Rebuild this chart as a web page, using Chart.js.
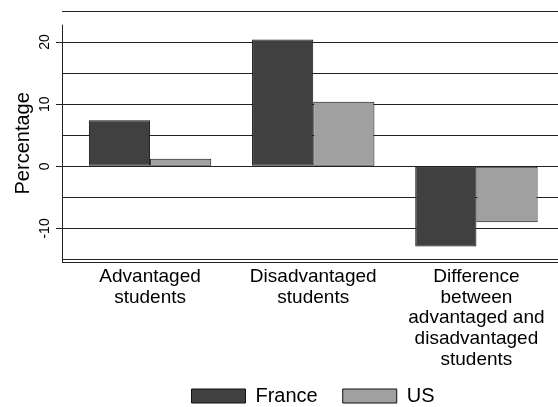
<!DOCTYPE html>
<html>
<head>
<meta charset="utf-8">
<script src="https://cdn.jsdelivr.net/npm/chart.js@4"></script>
<style>
  html, body { margin: 0; padding: 0; background: #fff; }
  #wrap { width: 558px; height: 407px; }
</style>
</head>
<body>
<div id="wrap"><canvas id="MainChart"></canvas></div>
<script>
// categories and values
var categories = [
    ['Advantaged', 'students'],
    ['Disadvantaged', 'students'],
    ['Difference', 'between', 'advantaged and', 'disadvantaged', 'students']
];
var franceVals = [7.4, 20.4, -12.9];
var usVals = [1.2, 10.4, -9.0];
var yTickLabels = [-10, 0, 10, 20];

var FONT = "'Liberation Sans', Arial, Helvetica, sans-serif";
var LEGEND_H = 33;   // space the legend takes in the layout
var LEGEND_UP = 13;  // legend drawn a bit higher, over the label box
var X_INSET = 6.5;   // stata leaves a small gap before the first group

// y tick labels are rotated (stata style), so draw them here
var yAxisText = {
    id: 'yAxisText',
    afterDraw: function (chart) {
        var ctx = chart.ctx;
        var ys = chart.scales.y;
        var area = chart.chartArea;
        var top = ys.getPixelForValue(22.8);
        ctx.save();
        ctx.strokeStyle = '#222';
        ctx.lineWidth = 1;
        ctx.beginPath();
        ctx.moveTo(area.left + 0.5, top);
        ctx.lineTo(area.left + 0.5, area.bottom);
        ctx.stroke();

        ctx.fillStyle = '#000';
        ctx.textAlign = 'center';
        ctx.textBaseline = 'middle';
        ctx.font = '14px ' + FONT;
        yTickLabels.forEach(function (v) {
            ctx.save();
            ctx.translate(45, ys.getPixelForValue(v));
            ctx.rotate(-Math.PI / 2);
            ctx.fillText(String(v), 0, 0);
            ctx.restore();
        });
        ctx.font = '20px ' + FONT;
        ctx.translate(23, (top + area.bottom) / 2);
        ctx.rotate(-Math.PI / 2);
        ctx.fillText('Percentage', 0, 0);
        ctx.restore();
    }
};

// legend keeps its wide item spacing (padding) but takes less room,
// and the x groups start a little right of the y axis
var layoutTweak = {
    id: 'layoutTweak',
    beforeUpdate: function (chart) {
        var lg = chart.legend;
        if (lg && !lg._fitWrapped) {
            var orig = lg.fit;
            lg.fit = function () {
                orig.apply(this, arguments);
                this.height = LEGEND_H;
            };
            lg._fitWrapped = true;
        }
    },
    afterLayout: function (chart) {
        var lg = chart.legend;
        if (lg) {
            lg.top -= LEGEND_UP;
            lg.bottom = chart.height;
            lg.height = lg.bottom - lg.top;
            lg.left = chart.chartArea.left + 6;
            lg.width = lg.right - lg.left;
        }
        var xs = chart.scales.x;
        xs._startPixel += X_INSET;
        xs._length = xs._endPixel - xs._startPixel;
    }
};

var chartCtx = document.getElementById('MainChart').getContext('2d');
var MainChart = new Chart(chartCtx, {
    type: 'bar',
    data: {
        labels: categories,
        datasets: [
            {
                label: 'France',
                data: franceVals,
                backgroundColor: '#404040',
                borderColor: '#111',
                borderWidth: 1,
                borderSkipped: false
            },
            {
                label: 'US',
                data: usVals,
                backgroundColor: '#a0a0a0',
                borderColor: '#111',
                borderWidth: 1,
                borderSkipped: false
            }
        ]
    },
    options: {
        responsive: true,
        maintainAspectRatio: false,
        animation: false,
        layout: { padding: { top: 11, bottom: 0, left: 0, right: 0 } },
        datasets: { bar: { categoryPercentage: 0.75, barPercentage: 1 } },
        plugins: {
            tooltip: { enabled: false },
            legend: {
                position: 'bottom',
                labels: {
                    boxWidth: 54,
                    boxHeight: 14,
                    padding: 25,
                    color: '#000',
                    font: { family: FONT, size: 20 }
                }
            }
        },
        scales: {
            x: {
                grid: { display: false, drawTicks: false },
                border: { display: true, color: '#222', width: 1 },
                ticks: {
                    color: '#000',
                    padding: 4,
                    maxRotation: 0,
                    autoSkip: false,
                    font: { family: FONT, size: 19, lineHeight: 1.1 }
                },
                afterFit: function (scale) { scale.height = 112; }
            },
            y: {
                min: -15.4,
                max: 25,
                border: { display: false },
                grid: {
                    color: '#222',
                    lineWidth: 1,
                    drawTicks: true,
                    tickLength: 6,
                    tickColor: function (c) {
                        return c.tick && c.tick.value % 10 === 0 ? '#222' : 'rgba(0,0,0,0)';
                    }
                },
                ticks: { display: false, stepSize: 5, includeBounds: false },
                afterFit: function (scale) { scale.width = 62; }
            }
        }
    },
    plugins: [layoutTweak, yAxisText]
});
</script>
</body>
</html>
